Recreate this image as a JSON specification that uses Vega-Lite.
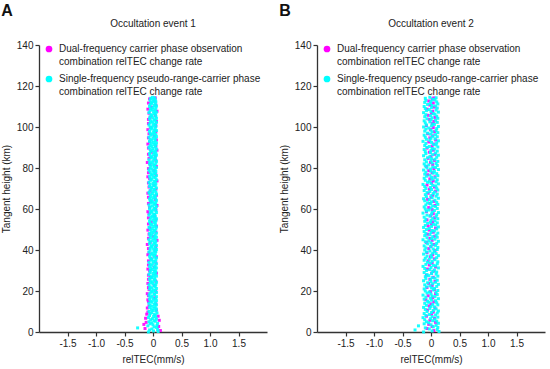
{
"$schema":"https://vega.github.io/schema/vega-lite/v6.json",
"background":"white",
"padding":{"left":1,"top":3,"right":3,"bottom":3},
"spacing":12,
"config":{
"font":"Liberation Sans",
"view":{"stroke":null},
"style":{"guide-label":{"lineHeight":12.5}},
"axis":{"grid":false,"domainColor":"#333","tickColor":"#333","domainWidth":1.3,"tickWidth":1.2,"tickSize":4,"labelColor":"#222","titleColor":"#222","labelFontSize":10,"titleFontSize":10,"titleFontWeight":"normal","labelPadding":2,"labelFont":"Liberation Sans","titleFont":"Liberation Sans"},
"title":{"font":"Liberation Sans","color":"#222"}
},
"resolve":{"legend":{"color":"independent"},"scale":{"color":"independent"}},
"datasets":{
"a":[
{"s":"D","x":0.13,"y":0.7},{"s":"D","x":-0.14,"y":1.7},{"s":"D","x":0.10,"y":2.7},{"s":"D","x":-0.16,"y":3.7},{"s":"D","x":-0.12,"y":4.7},{"s":"D","x":0.11,"y":5.7},{"s":"D","x":-0.13,"y":6.7},{"s":"D","x":0.09,"y":7.7},{"s":"D","x":-0.11,"y":8.7},{"s":"D","x":-0.09,"y":9.7},
{"s":"D","x":0.06,"y":10.7},{"s":"D","x":-0.10,"y":11.7},{"s":"D","x":-0.07,"y":12.7},{"s":"D","x":0.05,"y":13.7},{"s":"D","x":-0.08,"y":14.7},{"s":"D","x":-0.09,"y":15.7},{"s":"D","x":0.03,"y":16.7},{"s":"D","x":-0.08,"y":17.7},{"s":"D","x":-0.10,"y":18.7},{"s":"D","x":0.05,"y":19.7},
{"s":"D","x":-0.07,"y":20.7},{"s":"D","x":-0.08,"y":21.7},{"s":"D","x":0.02,"y":22.7},{"s":"D","x":-0.09,"y":23.7},{"s":"D","x":0.05,"y":24.7},{"s":"D","x":-0.08,"y":25.7},{"s":"D","x":-0.04,"y":26.7},{"s":"D","x":-0.08,"y":27.7},{"s":"D","x":0.06,"y":28.7},{"s":"D","x":-0.06,"y":29.7},
{"s":"D","x":-0.09,"y":30.7},{"s":"D","x":0.02,"y":31.7},{"s":"D","x":-0.08,"y":32.7},{"s":"D","x":0.05,"y":33.7},{"s":"D","x":-0.08,"y":34.7},{"s":"D","x":-0.03,"y":35.7},{"s":"D","x":0.06,"y":36.7},{"s":"D","x":-0.09,"y":37.7},{"s":"D","x":-0.07,"y":38.7},{"s":"D","x":0.04,"y":39.7},
{"s":"D","x":-0.08,"y":40.7},{"s":"D","x":0.05,"y":41.7},{"s":"D","x":-0.10,"y":42.7},{"s":"D","x":-0.05,"y":43.7},{"s":"D","x":0.07,"y":44.7},{"s":"D","x":-0.08,"y":45.7},{"s":"D","x":0.01,"y":46.7},{"s":"D","x":-0.07,"y":47.7},{"s":"D","x":0.05,"y":48.7},{"s":"D","x":-0.09,"y":49.7},
{"s":"D","x":-0.06,"y":50.7},{"s":"D","x":0.06,"y":51.7},{"s":"D","x":-0.08,"y":52.7},{"s":"D","x":-0.03,"y":53.7},{"s":"D","x":0.05,"y":54.7},{"s":"D","x":-0.08,"y":55.7},{"s":"D","x":0.03,"y":56.7},{"s":"D","x":-0.07,"y":57.7},{"s":"D","x":-0.09,"y":58.7},{"s":"D","x":0.05,"y":59.7},
{"s":"D","x":-0.06,"y":60.7},{"s":"D","x":0.07,"y":61.7},{"s":"D","x":-0.08,"y":62.7},{"s":"D","x":-0.04,"y":63.7},{"s":"D","x":0.04,"y":64.7},{"s":"D","x":-0.08,"y":65.7},{"s":"D","x":0.06,"y":66.7},{"s":"D","x":-0.09,"y":67.7},{"s":"D","x":-0.05,"y":68.7},{"s":"D","x":0.05,"y":69.7},
{"s":"D","x":-0.07,"y":70.7},{"s":"D","x":0.02,"y":71.7},{"s":"D","x":-0.08,"y":72.7},{"s":"D","x":0.07,"y":73.7},{"s":"D","x":-0.06,"y":74.7},{"s":"D","x":-0.09,"y":75.7},{"s":"D","x":0.05,"y":76.7},{"s":"D","x":-0.08,"y":77.7},{"s":"D","x":0.02,"y":78.7},{"s":"D","x":-0.08,"y":79.7},
{"s":"D","x":0.06,"y":80.7},{"s":"D","x":-0.05,"y":81.7},{"s":"D","x":-0.10,"y":82.7},{"s":"D","x":0.05,"y":83.7},{"s":"D","x":-0.07,"y":84.7},{"s":"D","x":0.04,"y":85.7},{"s":"D","x":-0.08,"y":86.7},{"s":"D","x":-0.03,"y":87.7},{"s":"D","x":0.07,"y":88.7},{"s":"D","x":-0.08,"y":89.7},
{"s":"D","x":0.05,"y":90.7},{"s":"D","x":-0.09,"y":91.7},{"s":"D","x":-0.06,"y":92.7},{"s":"D","x":0.06,"y":93.7},{"s":"D","x":-0.08,"y":94.7},{"s":"D","x":0.02,"y":95.7},{"s":"D","x":-0.07,"y":96.7},{"s":"D","x":0.05,"y":97.7},{"s":"D","x":-0.09,"y":98.7},{"s":"D","x":-0.04,"y":99.7},
{"s":"D","x":0.05,"y":100.7},{"s":"D","x":-0.08,"y":101.7},{"s":"D","x":0.06,"y":102.7},{"s":"D","x":-0.08,"y":103.7},{"s":"D","x":-0.05,"y":104.7},{"s":"D","x":0.04,"y":105.7},{"s":"D","x":-0.07,"y":106.7},{"s":"D","x":0.07,"y":107.7},{"s":"D","x":-0.09,"y":108.7},{"s":"D","x":-0.03,"y":109.7},
{"s":"D","x":0.05,"y":110.7},{"s":"D","x":-0.08,"y":111.7},{"s":"D","x":0.03,"y":112.7},{"s":"D","x":-0.06,"y":113.7},{"s":"D","x":0.04,"y":114.2},
{"s":"S","x":-0.08,"y":0},{"s":"S","x":0.01,"y":0.5},{"s":"S","x":0.09,"y":0.25},
{"s":"S","x":-0.06,"y":1},{"s":"S","x":-0.02,"y":1.5},{"s":"S","x":0.08,"y":1.25},
{"s":"S","x":-0.27,"y":2},{"s":"S","x":0.02,"y":2.5},{"s":"S","x":0.06,"y":2.25},
{"s":"S","x":-0.09,"y":3},{"s":"S","x":0,"y":3.5},{"s":"S","x":0.07,"y":3.25},
{"s":"S","x":-0.05,"y":4},{"s":"S","x":-0.02,"y":4.5},{"s":"S","x":0.08,"y":4.25},
{"s":"S","x":-0.07,"y":5},{"s":"S","x":0.02,"y":5.5},{"s":"S","x":0.04,"y":5.25},
{"s":"S","x":-0.04,"y":6},{"s":"S","x":-0.01,"y":6.5},{"s":"S","x":0.06,"y":6.25},
{"s":"S","x":-0.08,"y":7},{"s":"S","x":0.01,"y":7.5},{"s":"S","x":0.05,"y":7.25},
{"s":"S","x":-0.06,"y":8},{"s":"S","x":0.02,"y":8.5},{"s":"S","x":0.04,"y":8.25},
{"s":"S","x":-0.05,"y":9},{"s":"S","x":-0.02,"y":9.5},{"s":"S","x":0.07,"y":9.25},
{"s":"S","x":-0.07,"y":10},{"s":"S","x":0,"y":10.5},{"s":"S","x":0.05,"y":10.25},
{"s":"S","x":-0.03,"y":11},{"s":"S","x":0.02,"y":11.5},{"s":"S","x":0.06,"y":11.25},
{"s":"S","x":-0.06,"y":12},{"s":"S","x":-0.01,"y":12.5},{"s":"S","x":0.04,"y":12.25},
{"s":"S","x":-0.05,"y":13},{"s":"S","x":0.02,"y":13.5},{"s":"S","x":0.06,"y":13.25},
{"s":"S","x":-0.07,"y":14},{"s":"S","x":-0.02,"y":14.5},{"s":"S","x":0.04,"y":14.25},
{"s":"S","x":-0.04,"y":15},{"s":"S","x":0.01,"y":15.5},{"s":"S","x":0.06,"y":15.25},
{"s":"S","x":-0.06,"y":16},{"s":"S","x":0,"y":16.5},{"s":"S","x":0.05,"y":16.25},
{"s":"S","x":-0.05,"y":17},{"s":"S","x":-0.02,"y":17.5},{"s":"S","x":0.06,"y":17.25},
{"s":"S","x":-0.07,"y":18},{"s":"S","x":0.02,"y":18.5},{"s":"S","x":0.03,"y":18.25},
{"s":"S","x":-0.05,"y":19},{"s":"S","x":-0.01,"y":19.5},{"s":"S","x":0.06,"y":19.25},
{"s":"S","x":-0.03,"y":20},{"s":"S","x":0.01,"y":20.5},{"s":"S","x":0.04,"y":20.25},
{"s":"S","x":-0.06,"y":21},{"s":"S","x":-0.02,"y":21.5},{"s":"S","x":0.06,"y":21.25},
{"s":"S","x":-0.05,"y":22},{"s":"S","x":0.02,"y":22.5},{"s":"S","x":0.04,"y":22.25},
{"s":"S","x":-0.07,"y":23},{"s":"S","x":0,"y":23.5},{"s":"S","x":0.05,"y":23.25},
{"s":"S","x":-0.04,"y":24},{"s":"S","x":-0.01,"y":24.5},{"s":"S","x":0.06,"y":24.25},
{"s":"S","x":-0.05,"y":25},{"s":"S","x":0.02,"y":25.5},{"s":"S","x":0.04,"y":25.25},
{"s":"S","x":-0.06,"y":26},{"s":"S","x":-0.02,"y":26.5},{"s":"S","x":0.03,"y":26.25},
{"s":"S","x":-0.03,"y":27},{"s":"S","x":0.01,"y":27.5},{"s":"S","x":0.06,"y":27.25},
{"s":"S","x":-0.07,"y":28},{"s":"S","x":0,"y":28.5},{"s":"S","x":0.04,"y":28.25},
{"s":"S","x":-0.05,"y":29},{"s":"S","x":0.02,"y":29.5},{"s":"S","x":0.05,"y":29.25},
{"s":"S","x":-0.05,"y":30},{"s":"S","x":-0.01,"y":30.5},{"s":"S","x":0.04,"y":30.25},
{"s":"S","x":-0.04,"y":31},{"s":"S","x":0.02,"y":31.5},{"s":"S","x":0.06,"y":31.25},
{"s":"S","x":-0.06,"y":32},{"s":"S","x":-0.02,"y":32.5},{"s":"S","x":0.04,"y":32.25},
{"s":"S","x":-0.05,"y":33},{"s":"S","x":0,"y":33.5},{"s":"S","x":0.06,"y":33.25},
{"s":"S","x":-0.07,"y":34},{"s":"S","x":0.01,"y":34.5},{"s":"S","x":0.04,"y":34.25},
{"s":"S","x":-0.03,"y":35},{"s":"S","x":-0.02,"y":35.5},{"s":"S","x":0.05,"y":35.25},
{"s":"S","x":-0.05,"y":36},{"s":"S","x":0.02,"y":36.5},{"s":"S","x":0.06,"y":36.25},
{"s":"S","x":-0.06,"y":37},{"s":"S","x":0,"y":37.5},{"s":"S","x":0.03,"y":37.25},
{"s":"S","x":-0.04,"y":38},{"s":"S","x":-0.01,"y":38.5},{"s":"S","x":0.04,"y":38.25},
{"s":"S","x":-0.07,"y":39},{"s":"S","x":0.02,"y":39.5},{"s":"S","x":0.05,"y":39.25},
{"s":"S","x":-0.05,"y":40},{"s":"S","x":0.01,"y":40.5},{"s":"S","x":0.06,"y":40.25},
{"s":"S","x":-0.05,"y":41},{"s":"S","x":-0.02,"y":41.5},{"s":"S","x":0.04,"y":41.25},
{"s":"S","x":-0.03,"y":42},{"s":"S","x":0,"y":42.5},{"s":"S","x":0.06,"y":42.25},
{"s":"S","x":-0.06,"y":43},{"s":"S","x":0.02,"y":43.5},{"s":"S","x":0.04,"y":43.25},
{"s":"S","x":-0.05,"y":44},{"s":"S","x":-0.01,"y":44.5},{"s":"S","x":0.05,"y":44.25},
{"s":"S","x":-0.07,"y":45},{"s":"S","x":0.01,"y":45.5},{"s":"S","x":0.04,"y":45.25},
{"s":"S","x":-0.04,"y":46},{"s":"S","x":0.02,"y":46.5},{"s":"S","x":0.06,"y":46.25},
{"s":"S","x":-0.05,"y":47},{"s":"S","x":-0.02,"y":47.5},{"s":"S","x":0.04,"y":47.25},
{"s":"S","x":-0.06,"y":48},{"s":"S","x":0,"y":48.5},{"s":"S","x":0.06,"y":48.25},
{"s":"S","x":-0.03,"y":49},{"s":"S","x":0.02,"y":49.5},{"s":"S","x":0.03,"y":49.25},
{"s":"S","x":-0.05,"y":50},{"s":"S","x":-0.01,"y":50.5},{"s":"S","x":0.05,"y":50.25},
{"s":"S","x":-0.07,"y":51},{"s":"S","x":0.01,"y":51.5},{"s":"S","x":0.06,"y":51.25},
{"s":"S","x":-0.04,"y":52},{"s":"S","x":-0.02,"y":52.5},{"s":"S","x":0.04,"y":52.25},
{"s":"S","x":-0.05,"y":53},{"s":"S","x":0.02,"y":53.5},{"s":"S","x":0.04,"y":53.25},
{"s":"S","x":-0.06,"y":54},{"s":"S","x":0,"y":54.5},{"s":"S","x":0.05,"y":54.25},
{"s":"S","x":-0.05,"y":55},{"s":"S","x":0.02,"y":55.5},{"s":"S","x":0.06,"y":55.25},
{"s":"S","x":-0.03,"y":56},{"s":"S","x":-0.01,"y":56.5},{"s":"S","x":0.04,"y":56.25},
{"s":"S","x":-0.07,"y":57},{"s":"S","x":0.01,"y":57.5},{"s":"S","x":0.03,"y":57.25},
{"s":"S","x":-0.05,"y":58},{"s":"S","x":-0.02,"y":58.5},{"s":"S","x":0.06,"y":58.25},
{"s":"S","x":-0.04,"y":59},{"s":"S","x":0,"y":59.5},{"s":"S","x":0.05,"y":59.25},
{"s":"S","x":-0.06,"y":60},{"s":"S","x":0.02,"y":60.5},{"s":"S","x":0.04,"y":60.25},
{"s":"S","x":-0.05,"y":61},{"s":"S","x":-0.01,"y":61.5},{"s":"S","x":0.06,"y":61.25},
{"s":"S","x":-0.07,"y":62},{"s":"S","x":0.02,"y":62.5},{"s":"S","x":0.04,"y":62.25},
{"s":"S","x":-0.03,"y":63},{"s":"S","x":0,"y":63.5},{"s":"S","x":0.05,"y":63.25},
{"s":"S","x":-0.05,"y":64},{"s":"S","x":-0.02,"y":64.5},{"s":"S","x":0.06,"y":64.25},
{"s":"S","x":-0.06,"y":65},{"s":"S","x":0.01,"y":65.5},{"s":"S","x":0.04,"y":65.25},
{"s":"S","x":-0.04,"y":66},{"s":"S","x":0.02,"y":66.5},{"s":"S","x":0.04,"y":66.25},
{"s":"S","x":-0.05,"y":67},{"s":"S","x":-0.01,"y":67.5},{"s":"S","x":0.06,"y":67.25},
{"s":"S","x":-0.07,"y":68},{"s":"S","x":0,"y":68.5},{"s":"S","x":0.05,"y":68.25},
{"s":"S","x":-0.05,"y":69},{"s":"S","x":0.02,"y":69.5},{"s":"S","x":0.03,"y":69.25},
{"s":"S","x":-0.03,"y":70},{"s":"S","x":-0.02,"y":70.5},{"s":"S","x":0.06,"y":70.25},
{"s":"S","x":-0.06,"y":71},{"s":"S","x":0.01,"y":71.5},{"s":"S","x":0.04,"y":71.25},
{"s":"S","x":-0.05,"y":72},{"s":"S","x":0,"y":72.5},{"s":"S","x":0.05,"y":72.25},
{"s":"S","x":-0.07,"y":73},{"s":"S","x":0.02,"y":73.5},{"s":"S","x":0.04,"y":73.25},
{"s":"S","x":-0.04,"y":74},{"s":"S","x":-0.02,"y":74.5},{"s":"S","x":0.06,"y":74.25},
{"s":"S","x":-0.05,"y":75},{"s":"S","x":0.01,"y":75.5},{"s":"S","x":0.04,"y":75.25},
{"s":"S","x":-0.06,"y":76},{"s":"S","x":-0.01,"y":76.5},{"s":"S","x":0.06,"y":76.25},
{"s":"S","x":-0.03,"y":77},{"s":"S","x":0.02,"y":77.5},{"s":"S","x":0.04,"y":77.25},
{"s":"S","x":-0.05,"y":78},{"s":"S","x":0,"y":78.5},{"s":"S","x":0.05,"y":78.25},
{"s":"S","x":-0.07,"y":79},{"s":"S","x":-0.02,"y":79.5},{"s":"S","x":0.04,"y":79.25},
{"s":"S","x":-0.05,"y":80},{"s":"S","x":0.02,"y":80.5},{"s":"S","x":0.06,"y":80.25},
{"s":"S","x":-0.04,"y":81},{"s":"S","x":0.01,"y":81.5},{"s":"S","x":0.03,"y":81.25},
{"s":"S","x":-0.06,"y":82},{"s":"S","x":-0.01,"y":82.5},{"s":"S","x":0.05,"y":82.25},
{"s":"S","x":-0.05,"y":83},{"s":"S","x":0,"y":83.5},{"s":"S","x":0.06,"y":83.25},
{"s":"S","x":-0.07,"y":84},{"s":"S","x":0.02,"y":84.5},{"s":"S","x":0.04,"y":84.25},
{"s":"S","x":-0.03,"y":85},{"s":"S","x":-0.02,"y":85.5},{"s":"S","x":0.04,"y":85.25},
{"s":"S","x":-0.05,"y":86},{"s":"S","x":0.01,"y":86.5},{"s":"S","x":0.06,"y":86.25},
{"s":"S","x":-0.06,"y":87},{"s":"S","x":0.02,"y":87.5},{"s":"S","x":0.05,"y":87.25},
{"s":"S","x":-0.04,"y":88},{"s":"S","x":-0.01,"y":88.5},{"s":"S","x":0.04,"y":88.25},
{"s":"S","x":-0.05,"y":89},{"s":"S","x":0,"y":89.5},{"s":"S","x":0.06,"y":89.25},
{"s":"S","x":-0.07,"y":90},{"s":"S","x":-0.02,"y":90.5},{"s":"S","x":0.04,"y":90.25},
{"s":"S","x":-0.05,"y":91},{"s":"S","x":0.02,"y":91.5},{"s":"S","x":0.05,"y":91.25},
{"s":"S","x":-0.03,"y":92},{"s":"S","x":0.01,"y":92.5},{"s":"S","x":0.06,"y":92.25},
{"s":"S","x":-0.06,"y":93},{"s":"S","x":-0.02,"y":93.5},{"s":"S","x":0.04,"y":93.25},
{"s":"S","x":-0.05,"y":94},{"s":"S","x":0,"y":94.5},{"s":"S","x":0.04,"y":94.25},
{"s":"S","x":-0.07,"y":95},{"s":"S","x":0.02,"y":95.5},{"s":"S","x":0.06,"y":95.25},
{"s":"S","x":-0.04,"y":96},{"s":"S","x":-0.01,"y":96.5},{"s":"S","x":0.05,"y":96.25},
{"s":"S","x":-0.05,"y":97},{"s":"S","x":0.01,"y":97.5},{"s":"S","x":0.03,"y":97.25},
{"s":"S","x":-0.06,"y":98},{"s":"S","x":0.02,"y":98.5},{"s":"S","x":0.06,"y":98.25},
{"s":"S","x":-0.03,"y":99},{"s":"S","x":-0.02,"y":99.5},{"s":"S","x":0.04,"y":99.25},
{"s":"S","x":-0.05,"y":100},{"s":"S","x":0,"y":100.5},{"s":"S","x":0.05,"y":100.25},
{"s":"S","x":-0.07,"y":101},{"s":"S","x":0.01,"y":101.5},{"s":"S","x":0.04,"y":101.25},
{"s":"S","x":-0.05,"y":102},{"s":"S","x":-0.01,"y":102.5},{"s":"S","x":0.06,"y":102.25},
{"s":"S","x":-0.04,"y":103},{"s":"S","x":0.02,"y":103.5},{"s":"S","x":0.04,"y":103.25},
{"s":"S","x":-0.06,"y":104},{"s":"S","x":0,"y":104.5},{"s":"S","x":0.06,"y":104.25},
{"s":"S","x":-0.05,"y":105},{"s":"S","x":-0.02,"y":105.5},{"s":"S","x":0.05,"y":105.25},
{"s":"S","x":-0.03,"y":106},{"s":"S","x":0.02,"y":106.5},{"s":"S","x":0.04,"y":106.25},
{"s":"S","x":-0.07,"y":107},{"s":"S","x":0.01,"y":107.5},{"s":"S","x":0.06,"y":107.25},
{"s":"S","x":-0.05,"y":108},{"s":"S","x":-0.01,"y":108.5},{"s":"S","x":0.04,"y":108.25},
{"s":"S","x":-0.04,"y":109},{"s":"S","x":0,"y":109.5},{"s":"S","x":0.05,"y":109.25},
{"s":"S","x":-0.06,"y":110},{"s":"S","x":0.02,"y":110.5},{"s":"S","x":0.06,"y":110.25},
{"s":"S","x":-0.05,"y":111},{"s":"S","x":-0.02,"y":111.5},{"s":"S","x":0.04,"y":111.25},
{"s":"S","x":-0.03,"y":112},{"s":"S","x":0.01,"y":112.5},{"s":"S","x":0.05,"y":112.25},
{"s":"S","x":-0.05,"y":113},{"s":"S","x":0,"y":113.5},{"s":"S","x":0.04,"y":113.25},
{"s":"S","x":-0.04,"y":114},{"s":"S","x":-0.01,"y":114.5},{"s":"S","x":0.03,"y":114.25}
],
"b":[
{"s":"D","x":0.05,"y":0.7},{"s":"D","x":-0.07,"y":1.7},{"s":"D","x":0.02,"y":2.7},{"s":"D","x":-0.04,"y":3.7},{"s":"D","x":0.08,"y":4.7},{"s":"D","x":-0.02,"y":5.7},{"s":"D","x":0.06,"y":6.7},{"s":"D","x":-0.08,"y":7.7},{"s":"D","x":0.01,"y":8.7},{"s":"D","x":0.04,"y":9.7},
{"s":"D","x":-0.06,"y":10.7},{"s":"D","x":0.07,"y":11.7},{"s":"D","x":-0.03,"y":12.7},{"s":"D","x":0,"y":13.7},{"s":"D","x":0.05,"y":14.7},{"s":"D","x":-0.09,"y":15.7},{"s":"D","x":0.03,"y":16.7},{"s":"D","x":-0.05,"y":17.7},{"s":"D","x":0.08,"y":18.7},{"s":"D","x":-0.01,"y":19.7},
{"s":"D","x":0.06,"y":20.7},{"s":"D","x":-0.07,"y":21.7},{"s":"D","x":0.02,"y":22.7},{"s":"D","x":-0.04,"y":23.7},{"s":"D","x":0.07,"y":24.7},{"s":"D","x":-0.02,"y":25.7},{"s":"D","x":0.04,"y":26.7},{"s":"D","x":-0.08,"y":27.7},{"s":"D","x":0.01,"y":28.7},{"s":"D","x":0.05,"y":29.7},
{"s":"D","x":-0.06,"y":30.7},{"s":"D","x":0.08,"y":31.7},{"s":"D","x":-0.03,"y":32.7},{"s":"D","x":0.02,"y":33.7},{"s":"D","x":-0.05,"y":34.7},{"s":"D","x":0.06,"y":35.7},{"s":"D","x":-0.01,"y":36.7},{"s":"D","x":0.03,"y":37.7},{"s":"D","x":-0.07,"y":38.7},{"s":"D","x":0.07,"y":39.7},
{"s":"D","x":-0.04,"y":40.7},{"s":"D","x":0,"y":41.7},{"s":"D","x":0.05,"y":42.7},{"s":"D","x":-0.08,"y":43.7},{"s":"D","x":0.02,"y":44.7},{"s":"D","x":-0.02,"y":45.7},{"s":"D","x":0.06,"y":46.7},{"s":"D","x":-0.06,"y":47.7},{"s":"D","x":0.04,"y":48.7},{"s":"D","x":-0.03,"y":49.7},
{"s":"D","x":0.08,"y":50.7},{"s":"D","x":-0.05,"y":51.7},{"s":"D","x":0.01,"y":52.7},{"s":"D","x":0.03,"y":53.7},{"s":"D","x":-0.07,"y":54.7},{"s":"D","x":0.06,"y":55.7},{"s":"D","x":-0.01,"y":56.7},{"s":"D","x":0.04,"y":57.7},{"s":"D","x":-0.08,"y":58.7},{"s":"D","x":0.02,"y":59.7},
{"s":"D","x":-0.04,"y":60.7},{"s":"D","x":0.07,"y":61.7},{"s":"D","x":-0.02,"y":62.7},{"s":"D","x":0.05,"y":63.7},{"s":"D","x":-0.06,"y":64.7},{"s":"D","x":0,"y":65.7},{"s":"D","x":0.03,"y":66.7},{"s":"D","x":-0.05,"y":67.7},{"s":"D","x":0.08,"y":68.7},{"s":"D","x":-0.03,"y":69.7},
{"s":"D","x":0.06,"y":70.7},{"s":"D","x":-0.07,"y":71.7},{"s":"D","x":0.01,"y":72.7},{"s":"D","x":0.04,"y":73.7},{"s":"D","x":-0.02,"y":74.7},{"s":"D","x":0.07,"y":75.7},{"s":"D","x":-0.06,"y":76.7},{"s":"D","x":0.02,"y":77.7},{"s":"D","x":-0.04,"y":78.7},{"s":"D","x":0.05,"y":79.7},
{"s":"D","x":-0.08,"y":80.7},{"s":"D","x":0.03,"y":81.7},{"s":"D","x":-0.01,"y":82.7},{"s":"D","x":0.06,"y":83.7},{"s":"D","x":-0.05,"y":84.7},{"s":"D","x":0,"y":85.7},{"s":"D","x":0.07,"y":86.7},{"s":"D","x":-0.03,"y":87.7},{"s":"D","x":0.04,"y":88.7},{"s":"D","x":-0.07,"y":89.7},
{"s":"D","x":0.02,"y":90.7},{"s":"D","x":0.05,"y":91.7},{"s":"D","x":-0.04,"y":92.7},{"s":"D","x":0.08,"y":93.7},{"s":"D","x":-0.02,"y":94.7},{"s":"D","x":0.03,"y":95.7},{"s":"D","x":-0.06,"y":96.7},{"s":"D","x":0.06,"y":97.7},{"s":"D","x":-0.01,"y":98.7},{"s":"D","x":0.04,"y":99.7},
{"s":"D","x":-0.08,"y":100.7},{"s":"D","x":0.02,"y":101.7},{"s":"D","x":0.05,"y":102.7},{"s":"D","x":-0.03,"y":103.7},{"s":"D","x":0.07,"y":104.7},{"s":"D","x":-0.05,"y":105.7},{"s":"D","x":0.01,"y":106.7},{"s":"D","x":0.03,"y":107.7},{"s":"D","x":-0.07,"y":108.7},{"s":"D","x":0.06,"y":109.7},
{"s":"D","x":-0.02,"y":110.7},{"s":"D","x":0.04,"y":111.7},{"s":"D","x":-0.04,"y":112.7},{"s":"D","x":0.02,"y":113.7},{"s":"D","x":0.05,"y":114.2},
{"s":"S","x":-0.13,"y":0},{"s":"S","x":0.02,"y":0.5},{"s":"S","x":0.14,"y":0.25},
{"s":"S","x":-0.28,"y":1},{"s":"S","x":-0.03,"y":1.5},{"s":"S","x":0.11,"y":1.25},
{"s":"S","x":-0.10,"y":2},{"s":"S","x":0.04,"y":2.5},{"s":"S","x":0.12,"y":2.25},
{"s":"S","x":-0.22,"y":3},{"s":"S","x":0,"y":3.5},{"s":"S","x":0.09,"y":3.25},
{"s":"S","x":-0.12,"y":4},{"s":"S","x":-0.04,"y":4.5},{"s":"S","x":0.13,"y":4.25},
{"s":"S","x":-0.08,"y":5},{"s":"S","x":0.03,"y":5.5},{"s":"S","x":0.10,"y":5.25},
{"s":"S","x":-0.11,"y":6},{"s":"S","x":-0.01,"y":6.5},{"s":"S","x":0.07,"y":6.25},
{"s":"S","x":-0.14,"y":7},{"s":"S","x":0.02,"y":7.5},{"s":"S","x":0.12,"y":7.25},
{"s":"S","x":-0.09,"y":8},{"s":"S","x":-0.03,"y":8.5},{"s":"S","x":0.08,"y":8.25},
{"s":"S","x":-0.12,"y":9},{"s":"S","x":0.01,"y":9.5},{"s":"S","x":0.11,"y":9.25},
{"s":"S","x":-0.07,"y":10},{"s":"S","x":0.04,"y":10.5},{"s":"S","x":0.13,"y":10.25},
{"s":"S","x":-0.10,"y":11},{"s":"S","x":-0.02,"y":11.5},{"s":"S","x":0.09,"y":11.25},
{"s":"S","x":-0.13,"y":12},{"s":"S","x":0,"y":12.5},{"s":"S","x":0.06,"y":12.25},
{"s":"S","x":-0.08,"y":13},{"s":"S","x":0.03,"y":13.5},{"s":"S","x":0.12,"y":13.25},
{"s":"S","x":-0.11,"y":14},{"s":"S","x":-0.04,"y":14.5},{"s":"S","x":0.10,"y":14.25},
{"s":"S","x":-0.06,"y":15},{"s":"S","x":0.01,"y":15.5},{"s":"S","x":0.08,"y":15.25},
{"s":"S","x":-0.12,"y":16},{"s":"S","x":-0.01,"y":16.5},{"s":"S","x":0.13,"y":16.25},
{"s":"S","x":-0.09,"y":17},{"s":"S","x":0.02,"y":17.5},{"s":"S","x":0.07,"y":17.25},
{"s":"S","x":-0.14,"y":18},{"s":"S","x":0,"y":18.5},{"s":"S","x":0.11,"y":18.25},
{"s":"S","x":-0.07,"y":19},{"s":"S","x":-0.03,"y":19.5},{"s":"S","x":0.09,"y":19.25},
{"s":"S","x":-0.10,"y":20},{"s":"S","x":0.04,"y":20.5},{"s":"S","x":0.12,"y":20.25},
{"s":"S","x":-0.12,"y":21},{"s":"S","x":0.01,"y":21.5},{"s":"S","x":0.06,"y":21.25},
{"s":"S","x":-0.08,"y":22},{"s":"S","x":-0.02,"y":22.5},{"s":"S","x":0.10,"y":22.25},
{"s":"S","x":-0.11,"y":23},{"s":"S","x":0.03,"y":23.5},{"s":"S","x":0.13,"y":23.25},
{"s":"S","x":-0.06,"y":24},{"s":"S","x":0,"y":24.5},{"s":"S","x":0.08,"y":24.25},
{"s":"S","x":-0.13,"y":25},{"s":"S","x":-0.01,"y":25.5},{"s":"S","x":0.11,"y":25.25},
{"s":"S","x":-0.09,"y":26},{"s":"S","x":0.02,"y":26.5},{"s":"S","x":0.07,"y":26.25},
{"s":"S","x":-0.10,"y":27},{"s":"S","x":-0.04,"y":27.5},{"s":"S","x":0.12,"y":27.25},
{"s":"S","x":-0.07,"y":28},{"s":"S","x":0.01,"y":28.5},{"s":"S","x":0.09,"y":28.25},
{"s":"S","x":-0.12,"y":29},{"s":"S","x":0.03,"y":29.5},{"s":"S","x":0.10,"y":29.25},
{"s":"S","x":-0.08,"y":30},{"s":"S","x":-0.02,"y":30.5},{"s":"S","x":0.06,"y":30.25},
{"s":"S","x":-0.11,"y":31},{"s":"S","x":0,"y":31.5},{"s":"S","x":0.13,"y":31.25},
{"s":"S","x":-0.14,"y":32},{"s":"S","x":0.04,"y":32.5},{"s":"S","x":0.08,"y":32.25},
{"s":"S","x":-0.09,"y":33},{"s":"S","x":-0.01,"y":33.5},{"s":"S","x":0.11,"y":33.25},
{"s":"S","x":-0.06,"y":34},{"s":"S","x":0.02,"y":34.5},{"s":"S","x":0.12,"y":34.25},
{"s":"S","x":-0.12,"y":35},{"s":"S","x":-0.03,"y":35.5},{"s":"S","x":0.07,"y":35.25},
{"s":"S","x":-0.10,"y":36},{"s":"S","x":0.01,"y":36.5},{"s":"S","x":0.10,"y":36.25},
{"s":"S","x":-0.07,"y":37},{"s":"S","x":0,"y":37.5},{"s":"S","x":0.13,"y":37.25},
{"s":"S","x":-0.13,"y":38},{"s":"S","x":0.03,"y":38.5},{"s":"S","x":0.09,"y":38.25},
{"s":"S","x":-0.08,"y":39},{"s":"S","x":-0.02,"y":39.5},{"s":"S","x":0.06,"y":39.25},
{"s":"S","x":-0.11,"y":40},{"s":"S","x":0.04,"y":40.5},{"s":"S","x":0.11,"y":40.25},
{"s":"S","x":-0.09,"y":41},{"s":"S","x":-0.01,"y":41.5},{"s":"S","x":0.12,"y":41.25},
{"s":"S","x":-0.12,"y":42},{"s":"S","x":0.02,"y":42.5},{"s":"S","x":0.08,"y":42.25},
{"s":"S","x":-0.06,"y":43},{"s":"S","x":0,"y":43.5},{"s":"S","x":0.10,"y":43.25},
{"s":"S","x":-0.10,"y":44},{"s":"S","x":-0.04,"y":44.5},{"s":"S","x":0.13,"y":44.25},
{"s":"S","x":-0.14,"y":45},{"s":"S","x":0.01,"y":45.5},{"s":"S","x":0.07,"y":45.25},
{"s":"S","x":-0.07,"y":46},{"s":"S","x":0.03,"y":46.5},{"s":"S","x":0.11,"y":46.25},
{"s":"S","x":-0.11,"y":47},{"s":"S","x":-0.02,"y":47.5},{"s":"S","x":0.09,"y":47.25},
{"s":"S","x":-0.09,"y":48},{"s":"S","x":0,"y":48.5},{"s":"S","x":0.12,"y":48.25},
{"s":"S","x":-0.12,"y":49},{"s":"S","x":0.02,"y":49.5},{"s":"S","x":0.06,"y":49.25},
{"s":"S","x":-0.08,"y":50},{"s":"S","x":-0.03,"y":50.5},{"s":"S","x":0.10,"y":50.25},
{"s":"S","x":-0.13,"y":51},{"s":"S","x":0.01,"y":51.5},{"s":"S","x":0.13,"y":51.25},
{"s":"S","x":-0.10,"y":52},{"s":"S","x":0.04,"y":52.5},{"s":"S","x":0.08,"y":52.25},
{"s":"S","x":-0.06,"y":53},{"s":"S","x":-0.01,"y":53.5},{"s":"S","x":0.11,"y":53.25},
{"s":"S","x":-0.11,"y":54},{"s":"S","x":0,"y":54.5},{"s":"S","x":0.07,"y":54.25},
{"s":"S","x":-0.09,"y":55},{"s":"S","x":0.03,"y":55.5},{"s":"S","x":0.12,"y":55.25},
{"s":"S","x":-0.12,"y":56},{"s":"S","x":-0.02,"y":56.5},{"s":"S","x":0.09,"y":56.25},
{"s":"S","x":-0.07,"y":57},{"s":"S","x":0.01,"y":57.5},{"s":"S","x":0.10,"y":57.25},
{"s":"S","x":-0.14,"y":58},{"s":"S","x":0.02,"y":58.5},{"s":"S","x":0.13,"y":58.25},
{"s":"S","x":-0.08,"y":59},{"s":"S","x":-0.04,"y":59.5},{"s":"S","x":0.06,"y":59.25},
{"s":"S","x":-0.10,"y":60},{"s":"S","x":0,"y":60.5},{"s":"S","x":0.11,"y":60.25},
{"s":"S","x":-0.12,"y":61},{"s":"S","x":0.03,"y":61.5},{"s":"S","x":0.08,"y":61.25},
{"s":"S","x":-0.09,"y":62},{"s":"S","x":-0.01,"y":62.5},{"s":"S","x":0.12,"y":62.25},
{"s":"S","x":-0.06,"y":63},{"s":"S","x":0.01,"y":63.5},{"s":"S","x":0.10,"y":63.25},
{"s":"S","x":-0.11,"y":64},{"s":"S","x":-0.03,"y":64.5},{"s":"S","x":0.07,"y":64.25},
{"s":"S","x":-0.13,"y":65},{"s":"S","x":0.02,"y":65.5},{"s":"S","x":0.13,"y":65.25},
{"s":"S","x":-0.08,"y":66},{"s":"S","x":0,"y":66.5},{"s":"S","x":0.09,"y":66.25},
{"s":"S","x":-0.10,"y":67},{"s":"S","x":0.04,"y":67.5},{"s":"S","x":0.11,"y":67.25},
{"s":"S","x":-0.07,"y":68},{"s":"S","x":-0.02,"y":68.5},{"s":"S","x":0.06,"y":68.25},
{"s":"S","x":-0.12,"y":69},{"s":"S","x":0.01,"y":69.5},{"s":"S","x":0.12,"y":69.25},
{"s":"S","x":-0.09,"y":70},{"s":"S","x":-0.01,"y":70.5},{"s":"S","x":0.10,"y":70.25},
{"s":"S","x":-0.11,"y":71},{"s":"S","x":0.03,"y":71.5},{"s":"S","x":0.08,"y":71.25},
{"s":"S","x":-0.14,"y":72},{"s":"S","x":0,"y":72.5},{"s":"S","x":0.13,"y":72.25},
{"s":"S","x":-0.06,"y":73},{"s":"S","x":-0.03,"y":73.5},{"s":"S","x":0.09,"y":73.25},
{"s":"S","x":-0.10,"y":74},{"s":"S","x":0.02,"y":74.5},{"s":"S","x":0.11,"y":74.25},
{"s":"S","x":-0.12,"y":75},{"s":"S","x":0.01,"y":75.5},{"s":"S","x":0.07,"y":75.25},
{"s":"S","x":-0.08,"y":76},{"s":"S","x":-0.02,"y":76.5},{"s":"S","x":0.12,"y":76.25},
{"s":"S","x":-0.11,"y":77},{"s":"S","x":0.04,"y":77.5},{"s":"S","x":0.10,"y":77.25},
{"s":"S","x":-0.09,"y":78},{"s":"S","x":0,"y":78.5},{"s":"S","x":0.06,"y":78.25},
{"s":"S","x":-0.13,"y":79},{"s":"S","x":-0.01,"y":79.5},{"s":"S","x":0.13,"y":79.25},
{"s":"S","x":-0.07,"y":80},{"s":"S","x":0.03,"y":80.5},{"s":"S","x":0.08,"y":80.25},
{"s":"S","x":-0.10,"y":81},{"s":"S","x":-0.04,"y":81.5},{"s":"S","x":0.11,"y":81.25},
{"s":"S","x":-0.12,"y":82},{"s":"S","x":0.02,"y":82.5},{"s":"S","x":0.09,"y":82.25},
{"s":"S","x":-0.08,"y":83},{"s":"S","x":0,"y":83.5},{"s":"S","x":0.12,"y":83.25},
{"s":"S","x":-0.11,"y":84},{"s":"S","x":0.01,"y":84.5},{"s":"S","x":0.07,"y":84.25},
{"s":"S","x":-0.06,"y":85},{"s":"S","x":-0.02,"y":85.5},{"s":"S","x":0.10,"y":85.25},
{"s":"S","x":-0.13,"y":86},{"s":"S","x":0.03,"y":86.5},{"s":"S","x":0.13,"y":86.25},
{"s":"S","x":-0.09,"y":87},{"s":"S","x":-0.01,"y":87.5},{"s":"S","x":0.08,"y":87.25},
{"s":"S","x":-0.10,"y":88},{"s":"S","x":0,"y":88.5},{"s":"S","x":0.11,"y":88.25},
{"s":"S","x":-0.12,"y":89},{"s":"S","x":0.02,"y":89.5},{"s":"S","x":0.06,"y":89.25},
{"s":"S","x":-0.07,"y":90},{"s":"S","x":-0.03,"y":90.5},{"s":"S","x":0.12,"y":90.25},
{"s":"S","x":-0.11,"y":91},{"s":"S","x":0.04,"y":91.5},{"s":"S","x":0.09,"y":91.25},
{"s":"S","x":-0.09,"y":92},{"s":"S","x":0.01,"y":92.5},{"s":"S","x":0.10,"y":92.25},
{"s":"S","x":-0.14,"y":93},{"s":"S","x":-0.02,"y":93.5},{"s":"S","x":0.13,"y":93.25},
{"s":"S","x":-0.08,"y":94},{"s":"S","x":0,"y":94.5},{"s":"S","x":0.07,"y":94.25},
{"s":"S","x":-0.10,"y":95},{"s":"S","x":0.03,"y":95.5},{"s":"S","x":0.11,"y":95.25},
{"s":"S","x":-0.12,"y":96},{"s":"S","x":-0.01,"y":96.5},{"s":"S","x":0.08,"y":96.25},
{"s":"S","x":-0.06,"y":97},{"s":"S","x":0.02,"y":97.5},{"s":"S","x":0.12,"y":97.25},
{"s":"S","x":-0.11,"y":98},{"s":"S","x":0,"y":98.5},{"s":"S","x":0.09,"y":98.25},
{"s":"S","x":-0.09,"y":99},{"s":"S","x":-0.04,"y":99.5},{"s":"S","x":0.10,"y":99.25},
{"s":"S","x":-0.13,"y":100},{"s":"S","x":0.01,"y":100.5},{"s":"S","x":0.13,"y":100.25},
{"s":"S","x":-0.08,"y":101},{"s":"S","x":0.03,"y":101.5},{"s":"S","x":0.06,"y":101.25},
{"s":"S","x":-0.10,"y":102},{"s":"S","x":-0.02,"y":102.5},{"s":"S","x":0.11,"y":102.25},
{"s":"S","x":-0.12,"y":103},{"s":"S","x":0,"y":103.5},{"s":"S","x":0.08,"y":103.25},
{"s":"S","x":-0.07,"y":104},{"s":"S","x":0.02,"y":104.5},{"s":"S","x":0.12,"y":104.25},
{"s":"S","x":-0.11,"y":105},{"s":"S","x":-0.01,"y":105.5},{"s":"S","x":0.10,"y":105.25},
{"s":"S","x":-0.09,"y":106},{"s":"S","x":0.04,"y":106.5},{"s":"S","x":0.07,"y":106.25},
{"s":"S","x":-0.13,"y":107},{"s":"S","x":0,"y":107.5},{"s":"S","x":0.13,"y":107.25},
{"s":"S","x":-0.08,"y":108},{"s":"S","x":-0.03,"y":108.5},{"s":"S","x":0.09,"y":108.25},
{"s":"S","x":-0.10,"y":109},{"s":"S","x":0.01,"y":109.5},{"s":"S","x":0.11,"y":109.25},
{"s":"S","x":-0.12,"y":110},{"s":"S","x":0.02,"y":110.5},{"s":"S","x":0.08,"y":110.25},
{"s":"S","x":-0.06,"y":111},{"s":"S","x":-0.01,"y":111.5},{"s":"S","x":0.12,"y":111.25},
{"s":"S","x":-0.11,"y":112},{"s":"S","x":0,"y":112.5},{"s":"S","x":0.10,"y":112.25},
{"s":"S","x":-0.09,"y":113},{"s":"S","x":0.03,"y":113.5},{"s":"S","x":0.07,"y":113.25},
{"s":"S","x":-0.10,"y":114},{"s":"S","x":-0.02,"y":114.5},{"s":"S","x":0.09,"y":114.25}
]
},
"hconcat":[
{
"title":{"text":"A","anchor":"start","frame":"bounds","fontSize":16,"fontWeight":"bold","color":"#111","offset":0},
"vconcat":[{
"title":{"text":"Occultation event 1","fontSize":10,"fontWeight":"normal","offset":11},
"width":228,"height":287,
"data":{"name":"a"},
"mark":{"type":"point","shape":"square","filled":true,"size":9,"opacity":0.9},
"encoding":{
"x":{"field":"x","type":"quantitative","scale":{"domain":[-2,2],"nice":false},"axis":{"values":[-1.5,-1,-0.5,0,0.5,1,1.5],"labelExpr":"datum.value == 0 ? '0' : (datum.value < 0 ? '-' : '') + format(abs(datum.value), '.1f')","title":"relTEC(mm/s)","titlePadding":6}},
"y":{"field":"y","type":"quantitative","scale":{"domain":[0,140],"nice":false},"axis":{"values":[0,20,40,60,80,100,120,140],"title":"Tangent height (km)","titlePadding":5}},
"color":{"field":"s","type":"nominal","scale":{"domain":["D","S"],"range":["#ff00ff","#00ffff"]},"legend":{"orient":"none","legendX":5,"legendY":-1,"title":null,"symbolType":"circle","symbolSize":45,"symbolOpacity":1,"labelFontSize":10,"labelColor":"#222","labelLimit":0,"labelOffset":5,"rowPadding":7,"padding":0,"labelExpr":"datum.label == 'D' ? ['Dual-frequency carrier phase observation','combination relTEC change rate'] : ['Single-frequency pseudo-range-carrier phase','combination relTEC change rate']"}}
}
}]
},
{
"title":{"text":"B","anchor":"start","frame":"bounds","fontSize":16,"fontWeight":"bold","color":"#111","offset":0},
"vconcat":[{
"title":{"text":"Occultation event 2","fontSize":10,"fontWeight":"normal","offset":11},
"width":228,"height":287,
"data":{"name":"b"},
"mark":{"type":"point","shape":"square","filled":true,"size":9,"opacity":0.9},
"encoding":{
"x":{"field":"x","type":"quantitative","scale":{"domain":[-2,2],"nice":false},"axis":{"values":[-1.5,-1,-0.5,0,0.5,1,1.5],"labelExpr":"datum.value == 0 ? '0' : (datum.value < 0 ? '-' : '') + format(abs(datum.value), '.1f')","title":"relTEC(mm/s)","titlePadding":6}},
"y":{"field":"y","type":"quantitative","scale":{"domain":[0,140],"nice":false},"axis":{"values":[0,20,40,60,80,100,120,140],"title":"Tangent height (km)","titlePadding":5}},
"color":{"field":"s","type":"nominal","scale":{"domain":["D","S"],"range":["#ff00ff","#00ffff"]},"legend":{"orient":"none","legendX":5,"legendY":-1,"title":null,"symbolType":"circle","symbolSize":45,"symbolOpacity":1,"labelFontSize":10,"labelColor":"#222","labelLimit":0,"labelOffset":5,"rowPadding":7,"padding":0,"labelExpr":"datum.label == 'D' ? ['Dual-frequency carrier phase observation','combination relTEC change rate'] : ['Single-frequency pseudo-range-carrier phase','combination relTEC change rate']"}}
}
}]
}
]
}
